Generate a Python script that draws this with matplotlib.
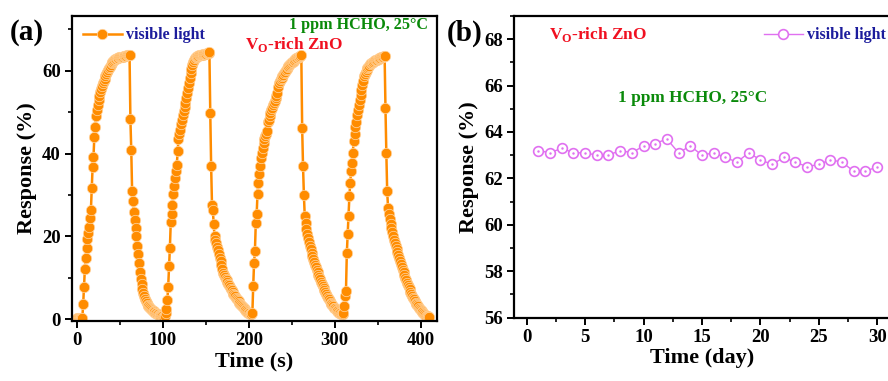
import numpy as np
import matplotlib
matplotlib.use("Agg")
import matplotlib.pyplot as plt
from matplotlib.ticker import MultipleLocator

plt.rcParams['font.family'] = ['Liberation Serif', 'DejaVu Serif']
plt.rcParams['font.weight'] = 'bold'
plt.rcParams['mathtext.fontset'] = 'custom'
plt.rcParams['mathtext.rm'] = 'Liberation Serif:bold'
plt.rcParams['mathtext.bf'] = 'Liberation Serif:bold'

# (a) response vs time, one sample per second, four on/off cycles
cycle1 = [0.2, 0.2, 0.2, 0.2, 0.2, 0.2, 0.2,
          3.6, 7.9, 12.2, 14.9, 17.3, 19.3, 20.9, 22.3, 24.5, 26.3,
          31.6, 36.8, 39.2, 43.9, 46.3, 49.0, 50.5, 51.8, 53.0, 54.0,
          54.9, 55.7, 56.4, 57.0, 57.6, 58.1, 58.6, 59.1, 59.6, 60.1,
          60.6, 61.0, 61.4, 61.8, 62.1, 62.4, 62.6, 62.8, 62.9, 63.0,
          63.0, 63.1, 63.2, 63.3, 63.3, 63.4, 63.4, 63.5, 63.5, 63.6,
          63.6, 63.7, 63.8, 63.9, 63.9,
          48.4, 40.8, 30.9, 28.5, 25.9,
          24.0, 22.0, 20.0, 17.8, 15.7, 13.5, 11.3, 9.8, 8.5, 7.2,
          6.3, 5.5, 4.8, 4.3, 3.9, 3.5, 3.2, 2.9, 2.7, 2.5,
          2.3, 2.1, 1.9, 1.7, 1.6, 1.4, 1.3, 1.2, 1.1, 1.0,
          0.9, 0.8, 0.7, 0.6, 0.6, 0.7]
cycle2 = [1.5, 2.4, 4.6, 7.9, 12.8, 17.3, 23.5, 25.3, 27.7, 30.3,
          32.1, 34.1, 35.7, 37.3, 40.5, 43.4, 44.8, 45.8, 47.2, 48.2,
          49.2, 50.2, 51.2, 52.2, 53.4, 54.6, 55.8, 57.0, 58.2, 59.4,
          60.4, 61.4, 62.0, 62.5, 63.0, 63.2, 63.4, 63.5, 63.6, 63.7,
          63.8, 63.8, 63.9, 63.9, 64.0, 64.0, 64.1, 64.1, 64.2, 64.3, 64.3, 64.4,
          49.8, 37.1, 27.7, 26.4, 22.9, 20.0, 19.2, 18.4, 17.5, 16.6,
          15.8, 14.9, 14.0, 13.0, 12.1, 11.2, 10.6, 10.2, 9.8, 9.4,
          9.0, 8.6, 8.2, 7.8, 7.4, 7.0, 6.6, 6.2, 5.9, 5.5,
          5.2, 4.9, 4.6, 4.3, 4.0, 3.7, 3.4, 3.2, 2.9, 2.7,
          2.4, 2.2, 2.0, 1.8, 1.6, 1.5, 1.3, 1.2, 1.2]
cycle3 = [1.4, 8.0, 13.6, 16.5, 23.3, 25.3, 30.3, 32.9, 35.0, 37.0,
          39.0, 40.2, 41.4, 42.6, 43.6, 44.2, 44.8, 45.4, 47.6, 48.2,
          49.0, 49.8, 50.4, 51.0, 51.6, 52.2, 52.8, 53.4, 54.0, 54.6,
          56.0, 57.0, 57.6, 58.0, 58.3, 58.6, 59.0, 59.4, 59.8, 60.2,
          60.5, 60.8, 61.1, 61.4, 61.6, 61.8, 62.0, 62.2, 62.4, 62.6,
          62.8, 63.0, 63.1, 63.3, 63.4, 63.5, 63.6, 63.8,
          46.2, 37.0, 30.1, 24.9, 23.3, 21.7, 20.7, 19.7, 18.7, 17.7,
          16.9, 16.1, 15.3, 14.5, 13.9, 13.2, 12.6, 12.0, 11.4, 10.8,
          10.2, 9.6, 9.1, 8.6, 8.1, 7.6, 7.1, 6.6, 6.1, 5.6,
          5.2, 4.8, 4.4, 4.0, 3.7, 3.4, 3.1, 2.8, 2.6, 2.4,
          2.2, 2.0, 1.8, 1.6, 1.4, 1.3, 1.2, 1.2]
cycle4 = [1.6, 3.2, 5.6, 6.8, 16.0, 20.5, 24.9, 29.7, 33.0, 35.7,
          37.6, 40.2, 43.0, 44.6, 46.4, 47.6, 49.4, 50.6, 51.8, 53.0,
          54.2, 55.4, 56.6, 57.6, 58.6, 59.2, 59.8, 60.2, 60.6, 60.9,
          61.2, 61.5, 61.8, 61.9, 62.0, 62.2, 62.3, 62.5, 62.6, 62.7,
          62.8, 62.9, 63.0, 63.1, 63.2, 63.3, 63.4, 63.5, 63.6,
          51.0, 40.2, 30.9, 26.9, 25.5, 24.1, 23.0, 22.0, 21.0, 20.0,
          19.2, 18.4, 17.6, 16.9, 16.2, 15.4, 14.7, 14.0, 13.3, 12.6,
          11.9, 11.3, 10.7, 10.0, 9.4, 8.8, 8.2, 7.7, 7.2, 6.7,
          6.2, 5.7, 5.2, 4.8, 4.4, 4.0, 3.7, 3.4, 3.1, 2.8,
          2.5, 2.2, 2.0, 1.7, 1.5, 1.3, 1.1, 0.9, 0.8, 0.7, 0.6, 0.5]

resp_a = cycle1 + cycle2 + cycle3 + cycle4
time_a = np.arange(len(resp_a))  # 1 s sampling

# (b) stability over 30 days
days = list(range(1, 31))
resp_b = [63.2, 63.1, 63.3, 63.1, 63.1, 63.0, 63.0, 63.2, 63.1, 63.4,
          63.5, 63.7, 63.1, 63.4, 63.0, 63.1, 62.9, 62.7, 63.1, 62.8,
          62.6, 62.9, 62.7, 62.5, 62.6, 62.8, 62.7, 62.3, 62.3, 62.5]

orange = '#FF8C00'
violet = '#E070F0'
navy = '#1C1C9C'
green = '#0A8A0A'
red = '#F01020'

W, H = 888, 381
fig = plt.figure(figsize=(W / 100, H / 100), dpi=100)


def px(x0, y0, x1, y1):
    return [x0 / W, 1 - y1 / H, (x1 - x0) / W, (y1 - y0) / H]


def style(ax):
    for s in ax.spines.values():
        s.set_linewidth(1.6)
    ax.tick_params(which='major', direction='out', length=5, width=1.4, labelsize=13.5, pad=3)
    ax.tick_params(which='minor', direction='out', length=3, width=1.2)
    for lab in ax.get_xticklabels() + ax.get_yticklabels():
        lab.set_fontweight('bold')


# panel (a)
ax1 = fig.add_axes(px(72, 16, 437, 320.5))
ax1.plot(time_a, resp_a, '-o', color=orange, lw=1.8, ms=7.5,
         mfc=orange, mec='#FFD8A8', mew=0.5, label='visible light')
ax1.set_xlim(-6, 419)
ax1.set_ylim(-0.3, 73.2)
ax1.xaxis.set_major_locator(MultipleLocator(100))
ax1.xaxis.set_minor_locator(MultipleLocator(50))
ax1.yaxis.set_major_locator(MultipleLocator(20))
ax1.yaxis.set_minor_locator(MultipleLocator(10))
style(ax1)
ax1.set_xlabel('Time (s)', fontsize=16, fontweight='bold', labelpad=2)
ax1.set_ylabel('Response (%)', fontsize=16, fontweight='bold', labelpad=4)
leg = ax1.legend(loc='upper left', frameon=False, handlelength=2.4, handletextpad=0.3,
                 borderaxespad=0.3, prop={'size': 11.5, 'weight': 'bold'})
for t in leg.get_texts():
    t.set_color(navy)
fig.text(10 / W, 1 - 33 / H, '(a)', fontsize=21, fontweight='bold', va='center', ha='left')
fig.text(428 / W, 1 - 25 / H, '1 ppm HCHO, 25\u00b0C', fontsize=11.6, fontweight='bold',
         color=green, va='center', ha='right')
fig.text(245 / W, 1 - 44 / H, r'V$_{\mathrm{O}}$-rich ZnO', fontsize=12.4, fontweight='bold',
         color=red, va='center', ha='left')

# panel (b)
ax2 = fig.add_axes(px(514, 16, 890, 317.5))
ax2.plot(days, resp_b, '-o', color=violet, lw=1.0, ms=7, mfc='white', mec=violet,
         mew=1.2, label='visible light')
ax2.plot(days, resp_b, '.', color=violet, ms=1.5)
ax2.set_xlim(-1.09, 31.1)
ax2.set_ylim(56, 69)
ax2.xaxis.set_major_locator(MultipleLocator(5))
ax2.xaxis.set_minor_locator(MultipleLocator(2.5))
ax2.yaxis.set_major_locator(MultipleLocator(2))
ax2.yaxis.set_minor_locator(MultipleLocator(1))
style(ax2)
ax2.set_xlabel('Time (day)', fontsize=16, fontweight='bold', labelpad=2)
ax2.set_ylabel('Response (%)', fontsize=16, fontweight='bold', labelpad=4)
leg2 = ax2.legend(loc='upper left', bbox_to_anchor=((753 - 514) / (890 - 514), 1.0), frameon=False,
                  handlelength=2.4, handletextpad=0.3, borderaxespad=0.3,
                  prop={'size': 11.5, 'weight': 'bold'})
for t in leg2.get_texts():
    t.set_color(navy)
fig.text(447 / W, 1 - 33 / H, '(b)', fontsize=21, fontweight='bold', va='center', ha='left')
fig.text(549 / W, 1 - 34 / H, r'V$_{\mathrm{O}}$-rich ZnO', fontsize=12.4, fontweight='bold',
         color=red, va='center', ha='left')
fig.text(618 / W, 1 - 98 / H, '1 ppm HCHO, 25\u00b0C', fontsize=12.4, fontweight='bold',
         color=green, va='center', ha='left')

fig.savefig('out.png', dpi=100)
